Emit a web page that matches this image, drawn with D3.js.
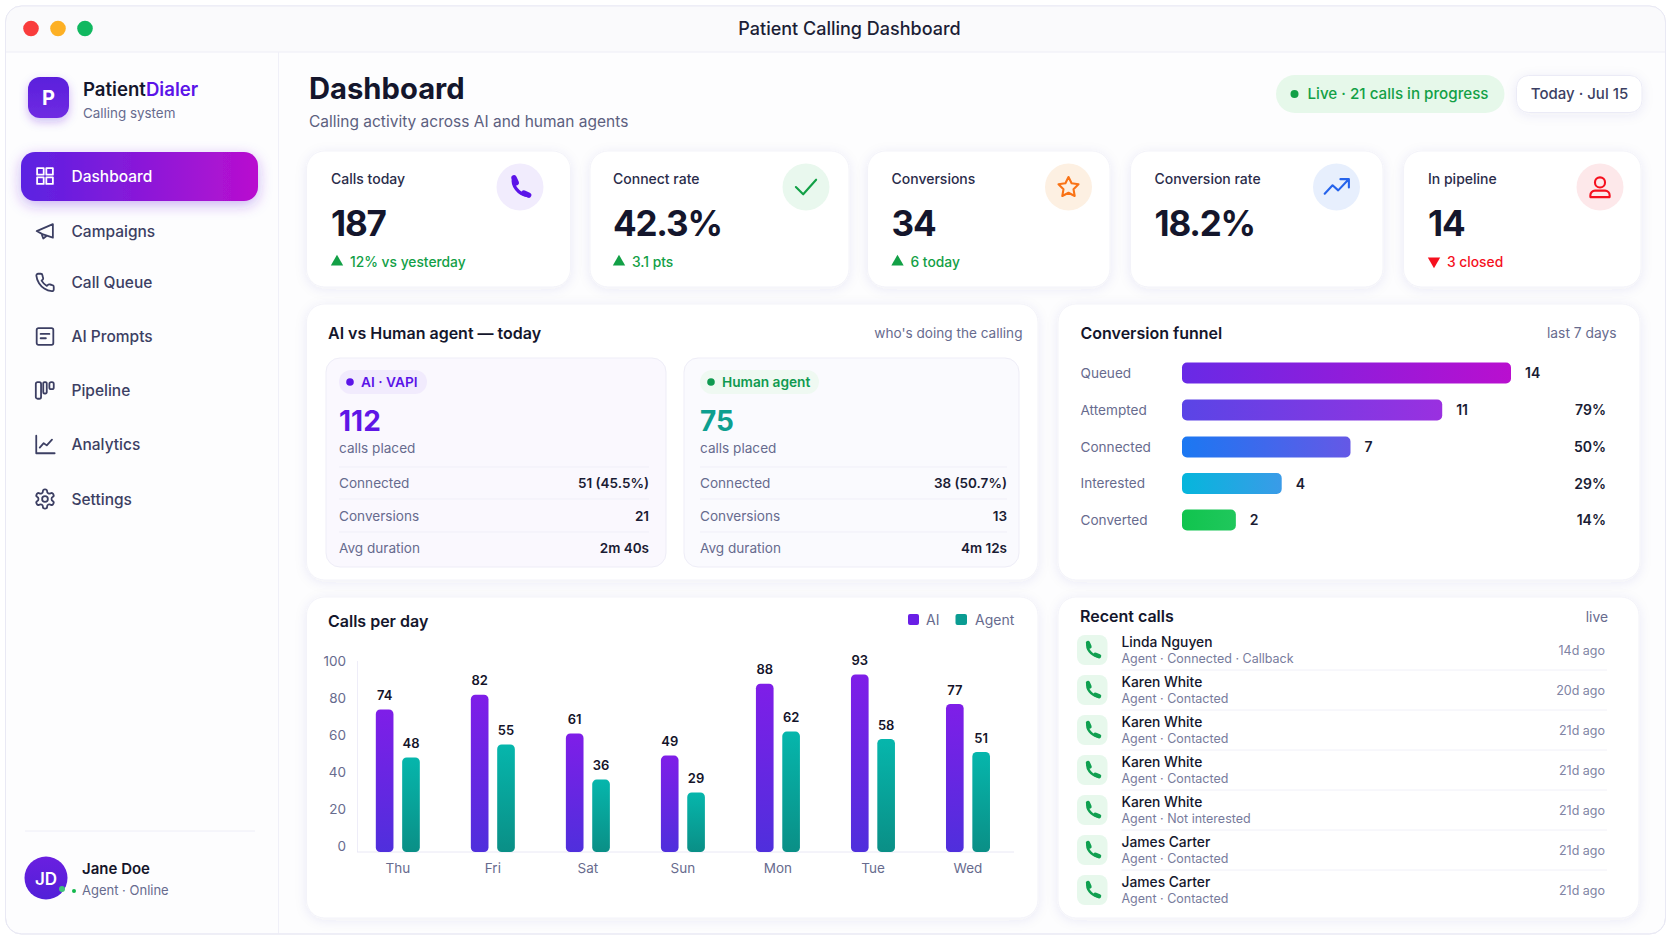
<!DOCTYPE html>
<html>
<head>
<meta charset="utf-8">
<title>Patient Calling Dashboard</title>
<script src="https://cdn.jsdelivr.net/npm/d3@7"></script>
<style>
  html, body { margin: 0; padding: 0; background: #fff; overflow: hidden; }
  svg { display: block; }
  text { font-family: Inter, "Noto Sans", sans-serif; }
</style>
</head>
<body>
<svg></svg>
<script>
// chart data
let navItems = ['Dashboard', 'Campaigns', 'Call Queue', 'AI Prompts', 'Pipeline', 'Analytics', 'Settings']
let kpiLabels = ['Calls today', 'Connect rate', 'Conversions', 'Conversion rate', 'In pipeline']
let kpiValues = ['187', '42.3%', '34', '18.2%', '14']
let kpiDeltas = ['12% vs yesterday', '3.1 pts', '6 today', '', '3 closed']
let compareRows = ['Connected', 'Conversions', 'Avg duration']
let aiStats = ['51 (45.5%)', '21', '2m 40s']
let humanStats = ['38 (50.7%)', '13', '4m 12s']
let funnelStages = ['Queued', 'Attempted', 'Connected', 'Interested', 'Converted']
let funnelCounts = [14, 11, 7, 4, 2]
let funnelShares = ['', '79%', '50%', '29%', '14%']
let days = ['Thu', 'Fri', 'Sat', 'Sun', 'Mon', 'Tue', 'Wed']
let aiCalls = [74, 82, 61, 49, 88, 93, 77]
let agentCalls = [48, 55, 36, 29, 62, 58, 51]
let yTicks = [0, 20, 40, 60, 80, 100]
let recentNames = ['Linda Nguyen', 'Karen White', 'Karen White', 'Karen White', 'Karen White', 'James Carter', 'James Carter']
let recentDetails = ['Agent · Connected · Callback', 'Agent · Contacted', 'Agent · Contacted', 'Agent · Contacted', 'Agent · Not interested', 'Agent · Contacted', 'Agent · Contacted']
let recentAges = ['14d ago', '20d ago', '21d ago', '21d ago', '21d ago', '21d ago', '21d ago']

let w = 1672
let h = 941
let ink = '#14162c'
let slate = '#3c3f63'
let muted = '#676b8e'
let green = '#12a046'
let purple = '#5b14e8'

let svg = d3.select('svg').attr('width', w).attr('height', h)
let defs = svg.append('defs')

let addGradient = (id, from, to, vertical) => {
    let g = defs.append('linearGradient').attr('id', id)
        .attr('x1', 0).attr('y1', 0)
        .attr('x2', vertical ? 0 : 1).attr('y2', vertical ? 1 : 0)
    g.append('stop').attr('offset', 0).attr('stop-color', from)
    g.append('stop').attr('offset', 1).attr('stop-color', to)
}

let addShadow = (id, dy, blur, color, opacity) => {
    defs.append('filter').attr('id', id)
        .attr('x', '-20%').attr('y', '-30%').attr('width', '140%').attr('height', '170%')
        .append('feDropShadow')
        .attr('dx', 0).attr('dy', dy).attr('stdDeviation', blur)
        .attr('flood-color', color).attr('flood-opacity', opacity)
}

addGradient('navActive', '#5a22e2', '#b90fcf')
addGradient('logoFill', '#5a1fdc', '#6f2ce2', true)
addGradient('avatarFill', '#6a1fe0', '#5220d8', true)
addGradient('aiBar', '#7f1ee8', '#4f2fdc', true)
addGradient('agentBar', '#06b6ac', '#0a8f86', true)
addGradient('funnel0', '#682ae6', '#b90fcf')
addGradient('funnel1', '#5a45e6', '#9a30e0')
addGradient('funnel2', '#1b78f2', '#6558e6')
addGradient('funnel3', '#05b6dc', '#3a9be8')
addGradient('funnel4', '#10c44e', '#20c75c')
addShadow('cardShadow', 2, 6, '#4a4a90', 0.08)
addShadow('navShadow', 4, 7, '#6a2be0', 0.35)
addShadow('logoShadow', 4, 5, '#5a1fdc', 0.28)

let label = (parent, x, y, str, size, weight, color, anchor) =>
    parent.append('text')
        .attr('x', x).attr('y', y).attr('dy', '0.36em')
        .attr('font-size', size).attr('font-weight', weight)
        .attr('fill', color).attr('text-anchor', anchor || 'start')
        .text(str)

let box = (parent, x0, y0, x1, y1, r, fill, stroke) =>
    parent.append('rect')
        .attr('x', x0).attr('y', y0).attr('width', x1 - x0).attr('height', y1 - y0)
        .attr('rx', r).attr('fill', fill).attr('stroke', stroke || 'none')

// line icons on a 24 unit box
let iconPaths = {
    grid: 'M3 3h7.5v7.5H3z M13.5 3H21v7.5h-7.5z M3 13.5h7.5V21H3z M13.5 13.5H21V21h-7.5z',
    megaphone: 'M21 3.5v15.5L9 15 2.5 11.5z M8 14.5l2 5.5 4-3.2',
    phone: 'M22 16.92v3a2 2 0 0 1-2.18 2 19.79 19.79 0 0 1-8.63-3.07 19.5 19.5 0 0 1-6-6 19.79 19.79 0 0 1-3.07-8.67A2 2 0 0 1 4.11 2h3a2 2 0 0 1 2 1.72 12.84 12.84 0 0 0 .7 2.81 2 2 0 0 1-.45 2.11L8.09 9.91a16 16 0 0 0 6 6l1.27-1.27a2 2 0 0 1 2.11-.45 12.84 12.84 0 0 0 2.81.7A2 2 0 0 1 22 16.92z',
    prompts: 'M4.5 2.5h15a2 2 0 0 1 2 2v15a2 2 0 0 1-2 2h-15a2 2 0 0 1-2-2v-15a2 2 0 0 1 2-2z M7 9h10 M7 14h6',
    pipeline: 'M3.5 3h2a2 2 0 0 1 2 2v15a2 2 0 0 1-2 2h-2a2 2 0 0 1-2-2V5a2 2 0 0 1 2-2z M11.5 3h1a1.5 1.5 0 0 1 1.5 1.5v10a1.5 1.5 0 0 1-1.5 1.5h-1a1.5 1.5 0 0 1-1.5-1.5v-10A1.5 1.5 0 0 1 11.5 3z M19 3h1a2 2 0 0 1 2 2v4a2 2 0 0 1-2 2h-1a2 2 0 0 1-2-2V5a2 2 0 0 1 2-2z',
    analytics: 'M2 2v20h21 M6 15.5l4.5-5 3.5 2.5 6-6.5',
    settings: 'M12.22 2h-.44a2 2 0 0 0-2 2v.18a2 2 0 0 1-1 1.73l-.43.25a2 2 0 0 1-2 0l-.15-.08a2 2 0 0 0-2.73.73l-.22.38a2 2 0 0 0 .73 2.73l.15.1a2 2 0 0 1 1 1.72v.51a2 2 0 0 1-1 1.74l-.15.09a2 2 0 0 0-.73 2.73l.22.38a2 2 0 0 0 2.73.73l.15-.08a2 2 0 0 1 2 0l.43.25a2 2 0 0 1 1 1.73V20a2 2 0 0 0 2 2h.44a2 2 0 0 0 2-2v-.18a2 2 0 0 1 1-1.73l.43-.25a2 2 0 0 1 2 0l.15.08a2 2 0 0 0 2.73-.73l.22-.39a2 2 0 0 0-.73-2.73l-.15-.08a2 2 0 0 1-1-1.74v-.5a2 2 0 0 1 1-1.74l.15-.09a2 2 0 0 0 .73-2.73l-.22-.38a2 2 0 0 0-2.73-.73l-.15.08a2 2 0 0 1-2 0l-.43-.25a2 2 0 0 1-1-1.73V4a2 2 0 0 0-2-2z M15 12a3 3 0 1 1-6 0 3 3 0 0 1 6 0z',
    check: 'M21 5.5 9.5 18.5 3 12',
    star: 'M12 2l3.09 6.26L22 9.27l-5 4.87 1.18 6.88L12 17.77l-6.18 3.25L7 14.14 2 9.27l6.91-1.01z',
    trend: 'M1.5 18l7-7.5 5 4.5L22 6 M15.5 5H23v7.5',
    user: 'M12 1.5a5.5 5.5 0 1 1 0 11 5.5 5.5 0 0 1 0-11z M1.5 23v-2a5 5 0 0 1 5-5h11a5 5 0 0 1 5 5v2z'
}

let icon = (parent, name, cx, cy, size, color, width) =>
    parent.append('path')
        .attr('d', iconPaths[name])
        .attr('transform', `translate(${cx - size / 2},${cy - size / 2}) scale(${size / 24})`)
        .attr('fill', 'none').attr('stroke', color)
        .attr('stroke-width', width * 24 / size)
        .attr('stroke-linecap', 'round').attr('stroke-linejoin', 'round')

// solid handset: a thin arc with heavy ends
let handset = (parent, cx, cy, size, color) => {
    let g = parent.append('g')
        .attr('transform', `translate(${cx - size / 2},${cy - size / 2}) scale(${size / 24})`)
        .attr('fill', 'none').attr('stroke', color).attr('stroke-linecap', 'round')
    g.append('path').attr('d', 'M6 4 C4.5 10 10 19 19.5 20').attr('stroke-width', 3)
    g.append('path').attr('d', 'M6.5 3.5 L8.5 8').attr('stroke-width', 5)
    g.append('path').attr('d', 'M15.5 17.5 L20 19.5').attr('stroke-width', 5)
}

let drawWindow = () => {
    defs.append('clipPath').attr('id', 'windowClip')
        .append('rect').attr('x', 5.5).attr('y', 6).attr('width', 1660).attr('height', 928).attr('rx', 16)
    box(svg, 5.5, 6, 1665.5, 934, 16, '#fdfdfe', '#e9e9f4')
    let inner = svg.append('g').attr('clip-path', 'url(#windowClip)')
    inner.append('rect').attr('x', 5).attr('y', 6).attr('width', 1662).attr('height', 46).attr('fill', '#fafafc')
    inner.append('line').attr('x1', 5).attr('x2', 1667).attr('y1', 52).attr('y2', 52).attr('stroke', '#eeeef6')
    inner.append('line').attr('x1', 278.5).attr('x2', 278.5).attr('y1', 52).attr('y2', 934).attr('stroke', '#f0f0f8')
    box(svg, 5.5, 6, 1665.5, 934, 16, 'none', '#e9e9f4')
    svg.append('circle').attr('cx', 31).attr('cy', 28.5).attr('r', 7.8).attr('fill', '#f93c3c')
    svg.append('circle').attr('cx', 58).attr('cy', 28.5).attr('r', 7.8).attr('fill', '#fdb024')
    svg.append('circle').attr('cx', 85).attr('cy', 28.5).attr('r', 7.8).attr('fill', '#10b860')
    label(svg, 849.5, 28.5, 'Patient Calling Dashboard', 18, 500, '#1c1e36', 'middle')
}

let drawSidebar = () => {
    box(svg, 28, 77, 69, 118, 12, 'url(#logoFill)').attr('filter', 'url(#logoShadow)')
    label(svg, 48.5, 98, 'P', 20, 700, '#fff', 'middle')
    let brand = label(svg, 83, 89, 'Patient', 18.6, 600, ink)
    brand.append('tspan').attr('fill', purple).text('Dialer')
    label(svg, 83, 113, 'Calling system', 13.4, 400, muted)

    box(svg, 21, 152, 258, 201, 14, 'url(#navActive)').attr('filter', 'url(#navShadow)')

    let navY = [176, 231.5, 282.5, 336.5, 390, 444.5, 499]
    let navIcons = ['grid', 'megaphone', 'phone', 'prompts', 'pipeline', 'analytics', 'settings']
    navItems.forEach((name, i) => {
        let active = i === 0
        let color = active ? '#fff' : slate
        icon(svg, navIcons[i], 45, navY[i], navIcons[i] === 'settings' ? 23 : 21, color, 1.8)
        label(svg, 71.5, navY[i], name, 15.5, 500, color)
    })

    svg.append('line').attr('x1', 25).attr('x2', 255).attr('y1', 831).attr('y2', 831).attr('stroke', '#eeeef7')
    svg.append('circle').attr('cx', 46).attr('cy', 878).attr('r', 21.5).attr('fill', 'url(#avatarFill)')
    label(svg, 46, 878.5, 'JD', 17, 600, '#fff', 'middle')
    svg.append('circle').attr('cx', 62).attr('cy', 889).attr('r', 3).attr('fill', '#3fc47a')
    svg.append('circle').attr('cx', 74).attr('cy', 891).attr('r', 2).attr('fill', '#12b84c')
    label(svg, 82, 869, 'Jane Doe', 15, 600, '#15152a')
    label(svg, 82, 890, 'Agent · Online', 13, 400, muted)
}

let drawHeader = () => {
    label(svg, 309, 88, 'Dashboard', 29.2, 700, ink)
    label(svg, 309, 121, 'Calling activity across AI and human agents', 15.5, 400, '#5c607f')

    box(svg, 1276, 75, 1504.5, 113, 19, '#e6f8ea')
    svg.append('circle').attr('cx', 1294.5).attr('cy', 94).attr('r', 4).attr('fill', green)
    label(svg, 1307.5, 94, 'Live · 21 calls in progress', 15.2, 500, green)

    box(svg, 1516.5, 75.5, 1642, 112.5, 12, '#fff', '#ebebf6').attr('filter', 'url(#cardShadow)')
    label(svg, 1579.5, 94, 'Today · Jul 15', 15, 500, slate, 'middle')
}

let drawKpis = () => {
    let cardX = [[306.5, 570.5], [590, 849], [867.5, 1110], [1130.5, 1383], [1403.5, 1641]]
    let labelX = [331, 613, 891.5, 1154.5, 1428]
    let iconX = [520, 806, 1068.5, 1336.5, 1600]
    let iconTint = ['#f1ecfd', '#e9f8ee', '#fdf0e2', '#e7effd', '#fde8ea']
    let iconColor = [purple, green, '#f97316', '#2563eb', '#f5101e']
    let iconName = ['phone', 'check', 'star', 'trend', 'user']
    let iconSize = [26, 27, 24, 27, 22]
    kpiLabels.forEach((name, i) => {
        let x = labelX[i]
        box(svg, cardX[i][0], 151, cardX[i][1], 287, 18, '#fff', '#f3f3f9').attr('filter', 'url(#cardShadow)')
        label(svg, x, 179, name, 14, 500, '#2a2c4a')
        label(svg, x, 223, kpiValues[i], 35, 700, ink).attr('letter-spacing', -1.2)
        svg.append('circle').attr('cx', iconX[i]).attr('cy', 187).attr('r', 23.5).attr('fill', iconTint[i])
        if (iconName[i] === 'phone') handset(svg, iconX[i], 187, iconSize[i], iconColor[i])
        else icon(svg, iconName[i], iconX[i], 187, iconSize[i], iconColor[i], 2.1)
        if (kpiDeltas[i]) {
            let down = i === 4
            svg.append('path')
                .attr('d', d3.symbol(d3.symbolTriangle, 66))
                .attr('transform', `translate(${x + 6},${down ? 261 : 262}) rotate(${down ? 180 : 0})`)
                .attr('fill', down ? '#f5101e' : green)
            label(svg, x + 19, 262, kpiDeltas[i], 13.8, 500, down ? '#f5101e' : green)
        }
    })
}

let drawCompare = () => {
    box(svg, 306.5, 304, 1038, 580, 18, '#fff', '#f3f3f9').attr('filter', 'url(#cardShadow)')
    label(svg, 328, 333, 'AI vs Human agent — today', 16, 600, ink)
    label(svg, 1022.5, 333, "who's doing the calling", 13.6, 400, muted, 'end')

    let panels = [
        { x0: 326, x1: 666, tx: 339, vx: 649, bg: '#faf8fe', name: 'AI · VAPI', pill: [339, 427], pillBg: '#f1ebfd', tone: purple, numTone: '#5f16e6', total: '112', stats: aiStats },
        { x0: 684, x1: 1019, tx: 700, vx: 1007, bg: '#fafafe', name: 'Human agent', pill: [700, 819], pillBg: '#eff9f2', tone: '#0f9a50', numTone: '#0e9f90', total: '75', stats: humanStats }
    ]
    let lineY = [467, 499, 532]
    let rowY = [483.5, 516, 548.5]
    panels.forEach((p) => {
        box(svg, p.x0, 358, p.x1, 567, 14, p.bg, '#eeedf7')
        box(svg, p.pill[0], 370, p.pill[1], 394, 12, p.pillBg)
        svg.append('circle').attr('cx', p.pill[0] + 11).attr('cy', 382).attr('r', 3.8).attr('fill', p.tone)
        label(svg, p.pill[0] + 22, 382.5, p.name, 13.7, 600, p.tone)
        label(svg, p.tx, 420.5, p.total, 28, 700, p.numTone)
        label(svg, p.tx, 448, 'calls placed', 13.6, 400, muted)
        compareRows.forEach((row, i) => {
            svg.append('line').attr('x1', p.tx).attr('x2', p.vx).attr('y1', lineY[i]).attr('y2', lineY[i]).attr('stroke', '#f0eff8')
            label(svg, p.tx, rowY[i], row, 13.6, 400, muted)
            label(svg, p.vx, rowY[i], p.stats[i], 13.5, 600, '#1a1c34', 'end')
        })
    })
}

let drawFunnel = () => {
    box(svg, 1058, 304, 1640, 580, 18, '#fff', '#f3f3f9').attr('filter', 'url(#cardShadow)')
    label(svg, 1080.5, 333, 'Conversion funnel', 16, 600, ink)
    label(svg, 1616.5, 333, 'last 7 days', 13.8, 400, muted, 'end')

    let rowY = [373, 410, 447, 483.5, 520]
    let barStart = 1182
    // zero sits a few pixels past the bar start, as in the picture
    let scaleLength = d3.scaleLinear().domain([0, 14]).range([8, 329])

    let rows = svg.selectAll('.funnel-row')
        .data(funnelStages)
        .enter()
        .append('g')
        .attr('class', 'funnel-row')

    rows.append('rect')
        .attr('x', barStart)
        .attr('y', (d, i) => rowY[i] - 10.5)
        .attr('width', (d, i) => scaleLength(funnelCounts[i]))
        .attr('height', 21)
        .attr('rx', 5)
        .attr('fill', (d, i) => `url(#funnel${i})`)

    rows.append('text')
        .attr('x', 1080.5)
        .attr('y', (d, i) => rowY[i])
        .attr('dy', '0.36em')
        .attr('font-size', 13.6).attr('fill', muted)
        .text((d) => d)

    rows.append('text')
        .attr('x', (d, i) => barStart + scaleLength(funnelCounts[i]) + 14)
        .attr('y', (d, i) => rowY[i])
        .attr('dy', '0.36em')
        .attr('font-size', 14).attr('font-weight', 600).attr('fill', '#1a1c34')
        .text((d, i) => funnelCounts[i])

    rows.append('text')
        .attr('x', 1606)
        .attr('y', (d, i) => rowY[i])
        .attr('dy', '0.36em')
        .attr('text-anchor', 'end')
        .attr('font-size', 14).attr('font-weight', 600).attr('fill', '#1a1c34')
        .text((d, i) => funnelShares[i])
}

let drawCallsPerDay = () => {
    box(svg, 306.5, 597, 1038, 918, 18, '#fff', '#f3f3f9').attr('filter', 'url(#cardShadow)')
    label(svg, 328, 621, 'Calls per day', 16, 600, ink)

    box(svg, 908, 614, 919, 625, 2, '#6a1fe6')
    label(svg, 926, 620, 'AI', 14, 400, muted)
    box(svg, 955.5, 614, 967, 625, 2, '#0a9c92')
    label(svg, 975, 620, 'Agent', 14, 400, muted)

    // the bars stand on a baseline a little under the zero tick
    let baseline = 852
    let scaleY = d3.scaleLinear().domain([0, 100]).range([846, 661.5])
    let scaleX = d3.scaleBand().domain(days).range([350.3, 1015.5]).padding(0)
    let scaleGroup = d3.scaleBand().domain(['ai', 'agent']).range([-22, 22]).paddingInner(0.33)
    let center = (d) => scaleX(d) + scaleX.bandwidth() / 2

    svg.append('line').attr('x1', 357.5).attr('x2', 357.5).attr('y1', 661).attr('y2', baseline).attr('stroke', '#eeedf8')

    let yAxis = d3.axisLeft(scaleY).tickValues(yTicks).tickSize(0).tickPadding(0)
    svg.append('g')
        .attr('id', 'y-axis')
        .attr('transform', 'translate(346,0)')
        .call(yAxis)
        .call((g) => g.select('.domain').remove())
        .selectAll('text')
        .attr('font-family', 'Inter').attr('font-size', 13.5).attr('fill', muted)

    let xAxis = d3.axisBottom(scaleX).tickSize(0).tickPadding(11)
    svg.append('g')
        .attr('id', 'x-axis')
        .attr('transform', 'translate(0,' + baseline + ')')
        .call(xAxis)
        .call((g) => g.select('.domain').attr('stroke', '#e9e8f5').attr('d', 'M357,0H1014'))
        .selectAll('text')
        .attr('font-family', 'Inter').attr('font-size', 13.5).attr('fill', muted)

    let drawSeries = (key, values, fill) => {
        svg.selectAll('.bar-' + key)
            .data(values)
            .enter()
            .append('rect')
            .attr('class', 'bar-' + key)
            .attr('x', (d, i) => center(days[i]) + scaleGroup(key))
            .attr('y', (d) => scaleY(d))
            .attr('width', scaleGroup.bandwidth())
            .attr('height', (d) => baseline - scaleY(d))
            .attr('rx', 4.5)
            .attr('fill', fill)
        svg.selectAll('.value-' + key)
            .data(values)
            .enter()
            .append('text')
            .attr('class', 'value-' + key)
            .attr('x', (d, i) => center(days[i]) + scaleGroup(key) + scaleGroup.bandwidth() / 2)
            .attr('y', (d) => scaleY(d) - 14)
            .attr('dy', '0.36em')
            .attr('text-anchor', 'middle')
            .attr('font-size', 13).attr('font-weight', 600).attr('fill', '#14142a')
            .text((d) => d)
    }
    drawSeries('ai', aiCalls, 'url(#aiBar)')
    drawSeries('agent', agentCalls, 'url(#agentBar)')
}

let drawRecent = () => {
    box(svg, 1058, 597, 1639, 918, 18, '#fff', '#f3f3f9').attr('filter', 'url(#cardShadow)')
    label(svg, 1080, 616, 'Recent calls', 16, 600, ink)
    label(svg, 1608, 617, 'live', 13.8, 400, muted, 'end')

    recentNames.forEach((name, i) => {
        let cy = 650 + i * 40
        box(svg, 1077, cy - 15, 1107.5, cy + 15, 8, '#e7f8ec')
        handset(svg, 1092.5, cy, 20, '#0fa050')
        label(svg, 1121.5, cy - 8, name, 13.8, 500, ink)
        label(svg, 1121.5, cy + 8.5, recentDetails[i], 12.5, 400, '#777b9c')
        label(svg, 1605, cy + 0.5, recentAges[i], 12.5, 400, '#8084a4', 'end')
        if (i < recentNames.length - 1) {
            svg.append('line').attr('x1', 1121.5).attr('x2', 1607).attr('y1', cy + 20).attr('y2', cy + 20).attr('stroke', '#f0f0f8')
        }
    })
}

drawWindow()
drawSidebar()
drawHeader()
drawKpis()
drawCompare()
drawFunnel()
drawCallsPerDay()
drawRecent()
</script>
</body>
</html>
